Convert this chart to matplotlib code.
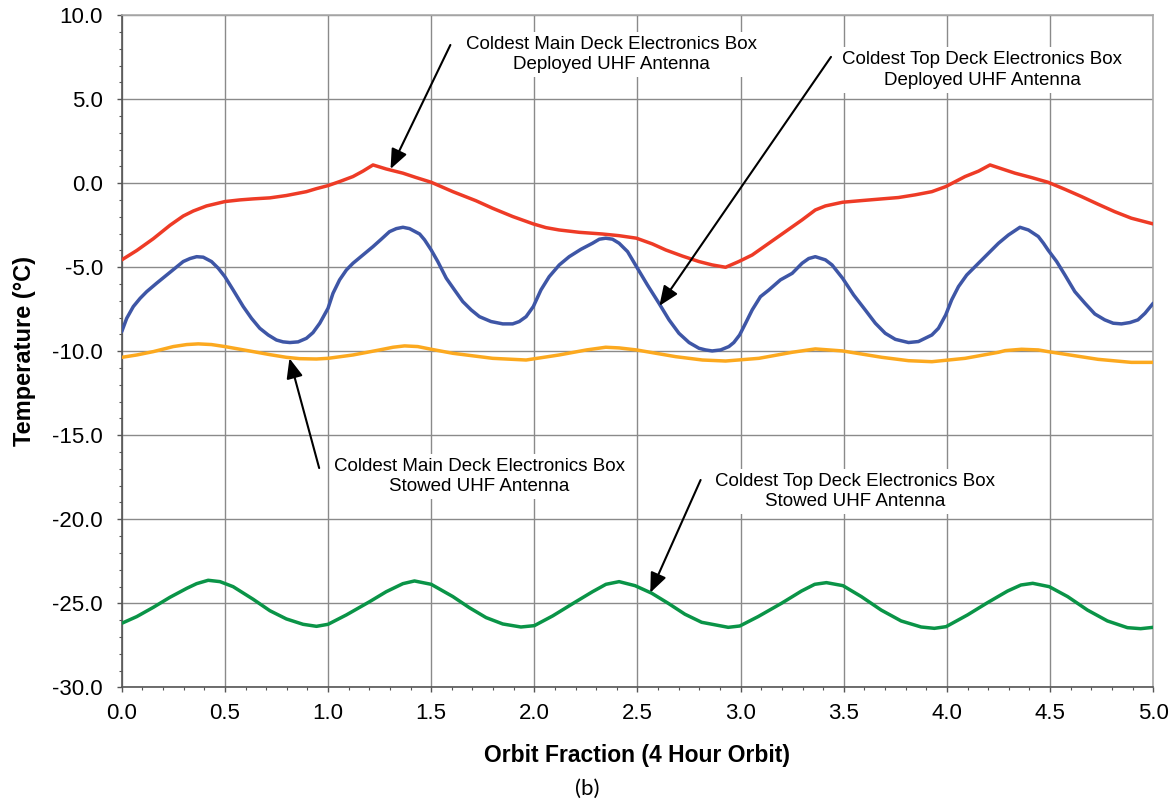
import matplotlib
matplotlib.use("Agg")
import matplotlib.pyplot as plt
from matplotlib.ticker import MultipleLocator, FormatStrFormatter

plt.rcParams['font.family'] = ['Liberation Sans', 'DejaVu Sans']

# ---- data (orbit fraction, temperature in deg C) ----
main_deployed_x = [0, 0.073, 0.153, 0.234, 0.298, 0.347, 0.411, 0.5, 0.573, 0.637, 0.718, 0.798,
                   0.895, 0.944, 1.0, 1.056, 1.121, 1.169, 1.218, 1.282, 1.363, 1.427, 1.5, 1.605,
                   1.717, 1.798, 1.895, 1.995, 2.056, 2.12, 2.218, 2.33, 2.411, 2.495, 2.572, 2.637,
                   2.717, 2.798, 2.862, 2.927, 2.991, 3.056, 3.137, 3.217, 3.298, 3.362, 3.411,
                   3.494, 3.588, 3.685, 3.765, 3.846, 3.927, 3.994, 4.088, 4.153, 4.209, 4.33, 4.41,
                   4.49, 4.572, 4.652, 4.733, 4.813, 4.894, 5.0]
main_deployed_y = [-4.56, -4.0, -3.3, -2.5, -1.95, -1.65, -1.35, -1.09, -0.99, -0.93, -0.87, -0.73,
                   -0.50, -0.32, -0.14, 0.10, 0.40, 0.72, 1.09, 0.85, 0.60, 0.34, 0.06, -0.50,
                   -1.04, -1.49, -1.98, -2.42, -2.64, -2.78, -2.92, -3.02, -3.12, -3.27, -3.61, -3.97,
                   -4.33, -4.66, -4.86, -5.0, -4.66, -4.27, -3.57, -2.88, -2.18, -1.59, -1.35,
                   -1.13, -1.03, -0.93, -0.85, -0.69, -0.50, -0.20, 0.40, 0.72, 1.09, 0.60, 0.34,
                   0.06, -0.36, -0.79, -1.25, -1.69, -2.08, -2.42]

top_deployed_x = [0, 0.024, 0.056, 0.089, 0.121, 0.169, 0.218, 0.258, 0.298, 0.331, 0.363, 0.395,
                  0.435, 0.468, 0.5, 0.54, 0.589, 0.629, 0.669, 0.71, 0.75, 0.782, 0.815, 0.855,
                  0.895, 0.927, 0.96, 1.0, 1.024, 1.056, 1.089, 1.121, 1.169, 1.218, 1.258, 1.298,
                  1.331, 1.363, 1.395, 1.444, 1.468, 1.5, 1.532, 1.573, 1.613, 1.653, 1.694, 1.734,
                  1.79, 1.847, 1.895, 1.927, 1.96, 1.995, 2.032, 2.072, 2.121, 2.169, 2.226, 2.282,
                  2.315, 2.346, 2.379, 2.411, 2.452, 2.495, 2.548, 2.604, 2.653, 2.701, 2.75, 2.798,
                  2.83, 2.862, 2.903, 2.943, 2.967, 2.995, 3.024, 3.056, 3.096, 3.137, 3.193, 3.25,
                  3.298, 3.33, 3.362, 3.411, 3.443, 3.494, 3.548, 3.604, 3.653, 3.701, 3.75, 3.814,
                  3.862, 3.927, 3.959, 3.994, 4.023, 4.056, 4.096, 4.153, 4.201, 4.25, 4.298, 4.354,
                  4.395, 4.443, 4.468, 4.49, 4.532, 4.572, 4.62, 4.669, 4.717, 4.765, 4.806, 4.846,
                  4.887, 4.926, 4.96, 5.0]
top_deployed_y = [-8.83, -8.04, -7.34, -6.85, -6.45, -5.95, -5.46, -5.06, -4.66, -4.48, -4.37, -4.40,
                  -4.66, -5.06, -5.56, -6.35, -7.34, -8.04, -8.63, -9.03, -9.33, -9.44, -9.48, -9.44,
                  -9.23, -8.89, -8.33, -7.44, -6.55, -5.75, -5.16, -4.76, -4.27, -3.77, -3.33, -2.88,
                  -2.70, -2.62, -2.70, -3.02, -3.37, -3.97, -4.66, -5.65, -6.35, -7.04, -7.54, -7.94,
                  -8.23, -8.37, -8.37, -8.23, -7.94, -7.34, -6.35, -5.56, -4.86, -4.37, -3.93, -3.57,
                  -3.33, -3.27, -3.33, -3.57, -4.07, -4.96, -6.05, -7.14, -8.13, -8.93, -9.48, -9.82,
                  -9.92, -9.98, -9.92, -9.72, -9.48, -9.03, -8.33, -7.54, -6.75, -6.35, -5.75, -5.36,
                  -4.76, -4.48, -4.37, -4.56, -4.86, -5.65, -6.65, -7.54, -8.33, -8.93, -9.29, -9.48,
                  -9.42, -9.03, -8.63, -7.84, -6.94, -6.15, -5.46, -4.76, -4.17, -3.57, -3.08, -2.62,
                  -2.78, -3.17, -3.57, -3.97, -4.66, -5.46, -6.45, -7.14, -7.78, -8.13, -8.33, -8.37,
                  -8.29, -8.13, -7.74, -7.14]

main_stowed_x = [0, 0.073, 0.153, 0.25, 0.315, 0.371, 0.435, 0.5, 0.637, 0.718, 0.798, 0.863, 0.944,
                 1.0, 1.121, 1.25, 1.315, 1.371, 1.435, 1.5, 1.605, 1.798, 1.96, 2.12, 2.253, 2.346,
                 2.411, 2.495, 2.685, 2.815, 2.927, 3.088, 3.25, 3.362, 3.494, 3.685, 3.814, 3.927,
                 4.088, 4.25, 4.282, 4.362, 4.443, 4.49, 4.733, 4.894, 5.0]
main_stowed_y = [-10.36, -10.22, -10.02, -9.72, -9.60, -9.56, -9.60, -9.72, -10.02, -10.20, -10.36,
                 -10.44, -10.46, -10.42, -10.22, -9.92, -9.76, -9.68, -9.72, -9.88, -10.12, -10.42,
                 -10.52, -10.22, -9.92, -9.76, -9.80, -9.92, -10.32, -10.52, -10.58, -10.42, -10.06,
                 -9.86, -9.98, -10.36, -10.56, -10.62, -10.42, -10.06, -9.96, -9.88, -9.92, -10.02,
                 -10.48, -10.66, -10.66]

top_stowed_x = [0, 0.073, 0.153, 0.234, 0.315, 0.363, 0.419, 0.476, 0.54, 0.637, 0.718, 0.798, 0.879,
                0.944, 1.0, 1.089, 1.202, 1.282, 1.363, 1.419, 1.5, 1.605, 1.685, 1.766, 1.847, 1.935,
                2.0, 2.089, 2.202, 2.282, 2.347, 2.411, 2.488, 2.569, 2.649, 2.73, 2.811, 2.94,
                2.996, 3.085, 3.198, 3.295, 3.359, 3.416, 3.496, 3.585, 3.681, 3.778, 3.875, 3.939,
                3.996, 4.1, 4.197, 4.294, 4.359, 4.416, 4.496, 4.585, 4.681, 4.778, 4.875, 4.939,
                5.0]
top_stowed_y = [-26.19, -25.79, -25.24, -24.64, -24.11, -23.83, -23.63, -23.71, -24.01, -24.76,
                -25.44, -25.93, -26.25, -26.37, -26.25, -25.69, -24.9, -24.31, -23.83, -23.67,
                -23.87, -24.6, -25.26, -25.85, -26.23, -26.41, -26.33, -25.75, -24.9, -24.31,
                -23.87, -23.71, -23.95, -24.4, -25.0, -25.65, -26.13, -26.43, -26.35, -25.79,
                -25.0, -24.27, -23.87, -23.77, -23.95, -24.6, -25.4, -26.05, -26.41, -26.49,
                -26.39, -25.69, -24.96, -24.27, -23.91, -23.81, -24.01, -24.6, -25.4, -26.05,
                -26.45, -26.51, -26.43]

labels = ["Coldest Main Deck Electronics Box\nDeployed UHF Antenna",
          "Coldest Top Deck Electronics Box\nDeployed UHF Antenna",
          "Coldest Main Deck Electronics Box\nStowed UHF Antenna",
          "Coldest Top Deck Electronics Box\nStowed UHF Antenna"]
label_pos = [(2.372, 7.67), (4.172, 6.74), (1.734, -17.45), (3.553, -18.35)]
arrow_tail = [(1.593, 8.23), (3.438, 7.52), (0.957, -16.95), (2.806, -17.66)]
arrow_head = [(1.303, 0.85), (2.606, -7.30), (0.813, -10.42), (2.562, -24.37)]

colors = ['#EE3B26', '#3E56A6', '#FCA91F', '#0A9447']

fig = plt.figure(figsize=(11.74, 8.02), dpi=100)
ax = fig.add_axes([0.1037, 0.143, 0.8786, 0.838])

series = [(main_deployed_x, main_deployed_y), (top_deployed_x, top_deployed_y),
          (main_stowed_x, main_stowed_y), (top_stowed_x, top_stowed_y)]
for (xs, ys), c in zip(series, colors):
    ax.plot(xs, ys, color=c, lw=2.5, solid_joinstyle='round', solid_capstyle='round', zorder=3)

ax.set_xlim(0, 5)
ax.set_ylim(-30, 10)
ax.xaxis.set_major_locator(MultipleLocator(0.5))
ax.xaxis.set_minor_locator(MultipleLocator(0.1))
ax.yaxis.set_major_locator(MultipleLocator(5))
ax.yaxis.set_minor_locator(MultipleLocator(1))
ax.xaxis.set_major_formatter(FormatStrFormatter('%.1f'))
ax.yaxis.set_major_formatter(FormatStrFormatter('%.1f'))
ax.grid(True, which='major', color='#8a8a8a', lw=1.0, zorder=0)
ax.tick_params(axis='both', which='major', labelsize=16, length=3.5, color='#555555', width=1)
ax.tick_params(axis='x', which='major', pad=8)
ax.tick_params(axis='y', which='major', pad=10)
ax.tick_params(axis='both', which='minor', length=2.5, color='#555555', width=0.8)

for s in ['left', 'bottom']:
    ax.spines[s].set_color('#555555')
    ax.spines[s].set_linewidth(1.2)
for s in ['top', 'right']:
    ax.spines[s].set_color('#aaaaaa')
    ax.spines[s].set_linewidth(1.2)

ax.set_xlabel('Orbit Fraction (4 Hour Orbit)', fontsize=16.5, fontweight='bold', labelpad=14)
ax.set_ylabel('Temperature (°C)', fontsize=17, fontweight='bold', labelpad=12)

for txt, pos, tail, head in zip(labels, label_pos, arrow_tail, arrow_head):
    ax.text(pos[0], pos[1], txt, ha='center', va='center', fontsize=13.5, linespacing=1.25,
            zorder=4, bbox=dict(facecolor='white', edgecolor='none', pad=3))
    ax.annotate('', xy=head, xytext=tail,
                arrowprops=dict(arrowstyle='-|>,head_length=0.6,head_width=0.25', color='black',
                                lw=1.5, mutation_scale=20, shrinkA=0, shrinkB=0), zorder=5)

fig.text(0.5, 0.016, '(b)', ha='center', va='center', fontsize=16,
         family=['Lato', 'DejaVu Sans'])

fig.savefig('out.png', dpi=100)
